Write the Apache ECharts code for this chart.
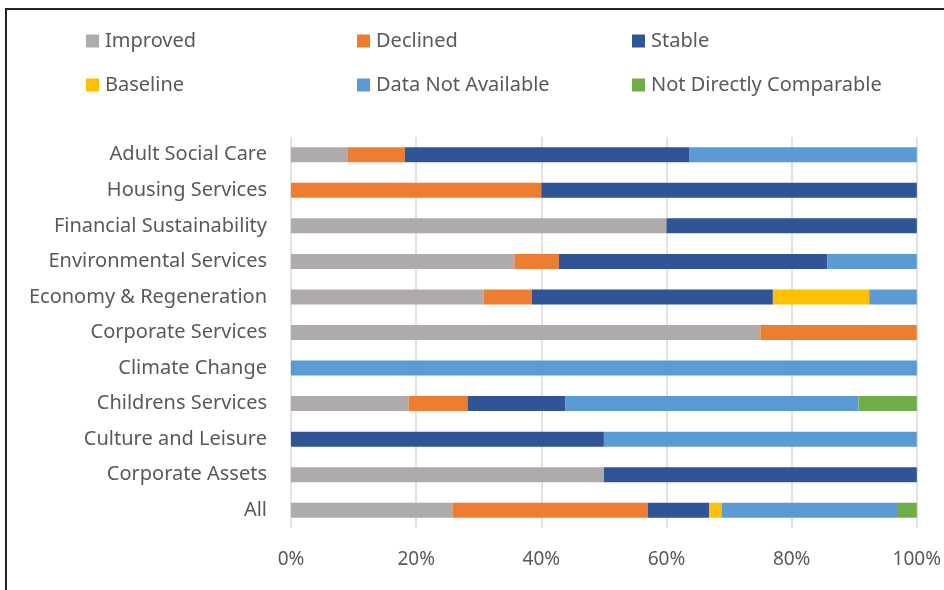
<!DOCTYPE html>
<html lang="en">
<head>
    <meta charset="UTF-8">
    <title>Performance by service area</title>
    <style>
        html, body { margin: 0; padding: 0; background: #fff; }
        #frame {
            position: absolute;
            left: 5px;
            top: 8px;
            width: 1000px;
            height: 700px;
            border: 2px solid #222;
        }
        #main {
            position: absolute;
            left: 0;
            top: 0;
            width: 944px;
            height: 590px;
        }
    </style>
    <script src="https://cdn.jsdelivr.net/npm/echarts@6/dist/echarts.min.js"></script>
</head>
<body>
    <div id="frame"></div>
    <div id="main"></div>

    <script>
        // categories, top to bottom
        const categories = ['Adult Social Care', 'Housing Services', 'Financial Sustainability',
            'Environmental Services', 'Economy & Regeneration', 'Corporate Services', 'Climate Change',
            'Childrens Services', 'Culture and Leisure', 'Corporate Assets', 'All'];

        // share of measures in each status (%)
        const improved      = [9.1, 0, 60, 35.7, 30.8, 75, 0, 18.8, 0, 50, 25.8];
        const declined      = [9.1, 40, 0, 7.1, 7.7, 25, 0, 9.4, 0, 0, 31.2];
        const stable        = [45.5, 60, 40, 42.9, 38.5, 0, 0, 15.6, 50, 50, 9.8];
        const baseline      = [0, 0, 0, 0, 15.4, 0, 0, 0, 0, 0, 2.0];
        const notAvailable  = [36.4, 0, 0, 14.3, 7.7, 0, 100, 46.9, 50, 0, 28.2];
        const notComparable = [0, 0, 0, 0, 0, 0, 0, 9.4, 0, 0, 3.0];

        const xTicks = [0, 20, 40, 60, 80, 100];

        const seriesNames = ['Improved', 'Declined', 'Stable', 'Baseline', 'Data Not Available', 'Not Directly Comparable'];
        const seriesData = [improved, declined, stable, baseline, notAvailable, notComparable];
        const colors = ['#AFABAB', '#ED7D31', '#2F5597', '#FFC000', '#5B9BD5', '#70AD47'];

        const font = 'Noto Sans';
        const textColor = '#595959';

        let chart = echarts.init(document.getElementById('main'));

        // three legend columns, two rows each
        const legendCols = [
            { left: 86, data: ['Improved', 'Baseline'] },
            { left: 357, data: ['Declined', 'Data Not Available'] },
            { left: 632, data: ['Stable', 'Not Directly Comparable'] }
        ];

        let option = {
            animation: false,
            color: colors,
            legend: legendCols.map(c => ({
                orient: 'vertical',
                left: c.left,
                top: 31,
                padding: 0,
                itemGap: 24,
                itemWidth: 13,
                itemHeight: 13,
                icon: 'rect',
                selectedMode: false,
                data: c.data,
                textStyle: { fontFamily: font, fontSize: 20, color: textColor, lineHeight: 20, padding: [0, 0, 0, 1] }
            })),
            grid: {
                left: 291,
                right: 23,
                top: 137,
                bottom: 62,
                containLabel: false
            },
            xAxis: {
                type: 'value',
                min: xTicks[0],
                max: xTicks[xTicks.length - 1],
                interval: 20,
                axisLine: { show: false },
                axisTick: { show: false },
                splitLine: { lineStyle: { color: '#D9D9D9', width: 1.5 } },
                axisLabel: {
                    margin: 22,
                    fontFamily: font,
                    fontSize: 19,
                    color: textColor,
                    formatter: '{value}%'
                }
            },
            yAxis: {
                type: 'category',
                data: categories,
                inverse: true,
                axisLine: { show: false },
                axisTick: { show: false },
                axisLabel: {
                    margin: 24,
                    fontFamily: font,
                    fontSize: 20,
                    color: textColor
                }
            },
            series: seriesNames.map((name, i) => ({
                name: name,
                type: 'bar',
                stack: 'total',
                barWidth: 15,
                data: seriesData[i]
            }))
        };

        option && chart.setOption(option);
    </script>
</body>
</html>
